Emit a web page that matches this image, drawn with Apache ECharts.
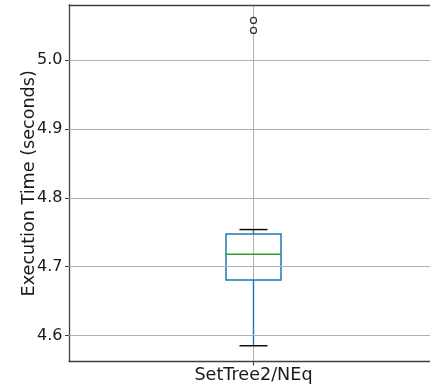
<!DOCTYPE html>
<html>
<head>
<meta charset="utf-8">
<script src="https://cdn.jsdelivr.net/npm/echarts@6/dist/echarts.min.js"></script>
<style>
  html, body { margin: 0; padding: 0; background: #fff; }
  #chart { width: 430px; height: 387px; }
</style>
</head>
<body>
<div id="chart"></div>
<script>
// Benchmark timing distribution for one operation
const categories = ['SetTree2/NEq'];
// [lower whisker, Q1, median, Q3, upper whisker]
const boxStats = [[4.585, 4.6805, 4.718, 4.7474, 4.7538]];
const outliers = [5.0576, 5.043];
const yTicks = [4.6, 4.7, 4.8, 4.9, 5.0];
const yRange = [4.562, 5.080];

const FONT = 'DejaVu Sans';
const FS = 17.6;
const TEXT = '#1a1a1a';
const SPINE = { color: '#404040', width: 1.3 };
const chart = echarts.init(document.getElementById('chart'), null, { renderer: 'canvas' });

const boxData = boxStats.map((s, i) => [i].concat(s));
const outlierData = outliers.map(v => [0, v]);

chart.setOption({
  animation: false,
  backgroundColor: '#ffffff',
  grid: { left: 69, top: 5, width: 369, height: 356.6, containLabel: false, outerBoundsMode: 'none' },
  xAxis: [
    {
      type: 'value',
      min: -1, max: 1, interval: 1,
      axisLine: { show: true, onZero: false, lineStyle: SPINE },
      axisTick: { show: true, length: 4, customValues: [0], lineStyle: { color: '#404040' } },
      axisLabel: {
        customValues: [0],
        formatter: v => (v === 0 ? categories[0] : ''),
        fontFamily: FONT, fontSize: FS, color: TEXT, margin: 5
      },
      splitLine: { show: true, lineStyle: { color: '#b0b0b0', width: 1 } }
    },
    {
      // top frame line
      type: 'value', position: 'top',
      min: -1, max: 1,
      axisLine: { show: true, onZero: false, lineStyle: SPINE },
      axisTick: { show: false }, axisLabel: { show: false }, splitLine: { show: false }
    }
  ],
  yAxis: {
    type: 'value',
    min: yRange[0], max: yRange[1],
    name: 'Execution Time (seconds)',
    nameLocation: 'middle', nameGap: 31, nameRotate: 90,
    nameMoveOverlap: false,
    nameTextStyle: { fontFamily: FONT, fontSize: FS, color: TEXT },
    axisLine: { show: true, onZero: false, lineStyle: SPINE },
    axisTick: { show: true, length: 4, customValues: yTicks, lineStyle: { color: '#404040' } },
    axisLabel: {
      customValues: yTicks,
      formatter: v => v.toFixed(1),
      fontFamily: FONT, fontSize: 16, color: TEXT, margin: 6.5
    },
    splitLine: { show: false }
  },
  series: [
    {
      // horizontal grid lines at the labelled ticks
      type: 'line', data: [], silent: true,
      markLine: {
        symbol: 'none', silent: true, label: { show: false },
        lineStyle: { color: '#b0b0b0', width: 1, type: 'solid' },
        data: yTicks.map(v => ({ yAxis: v }))
      }
    },
    {
      type: 'custom',
      data: boxData,
      clip: false,
      renderItem: function (params, api) {
        const x = api.value(0);
        const lo = api.coord([x, api.value(1)]);
        const q1 = api.coord([x, api.value(2)]);
        const md = api.coord([x, api.value(3)]);
        const q3 = api.coord([x, api.value(4)]);
        const hi = api.coord([x, api.value(5)]);
        const cx = lo[0];
        const bw = 55, cw = 28;
        const blue = '#1f77b4';
        return {
          type: 'group',
          children: [
            { type: 'line', shape: { x1: cx, y1: q1[1], x2: cx, y2: lo[1] }, style: { stroke: blue, lineWidth: 1.4 } },
            { type: 'line', shape: { x1: cx, y1: q3[1], x2: cx, y2: hi[1] }, style: { stroke: blue, lineWidth: 1.4 } },
            { type: 'line', shape: { x1: cx - cw / 2, y1: lo[1], x2: cx + cw / 2, y2: lo[1] }, style: { stroke: '#000', lineWidth: 1.4 } },
            { type: 'line', shape: { x1: cx - cw / 2, y1: hi[1], x2: cx + cw / 2, y2: hi[1] }, style: { stroke: '#000', lineWidth: 1.4 } },
            { type: 'rect', shape: { x: cx - bw / 2, y: q3[1], width: bw, height: q1[1] - q3[1] }, style: { fill: 'none', stroke: blue, lineWidth: 1.5 } },
            { type: 'line', shape: { x1: cx - bw / 2, y1: md[1], x2: cx + bw / 2, y2: md[1] }, style: { stroke: '#2ca02c', lineWidth: 1.4 } }
          ]
        };
      }
    },
    {
      type: 'scatter',
      data: outlierData,
      symbol: 'circle',
      symbolSize: 6,
      itemStyle: { color: '#ffffff', borderColor: '#000000', borderWidth: 1.2 }
    }
  ]
});
</script>
</body>
</html>
